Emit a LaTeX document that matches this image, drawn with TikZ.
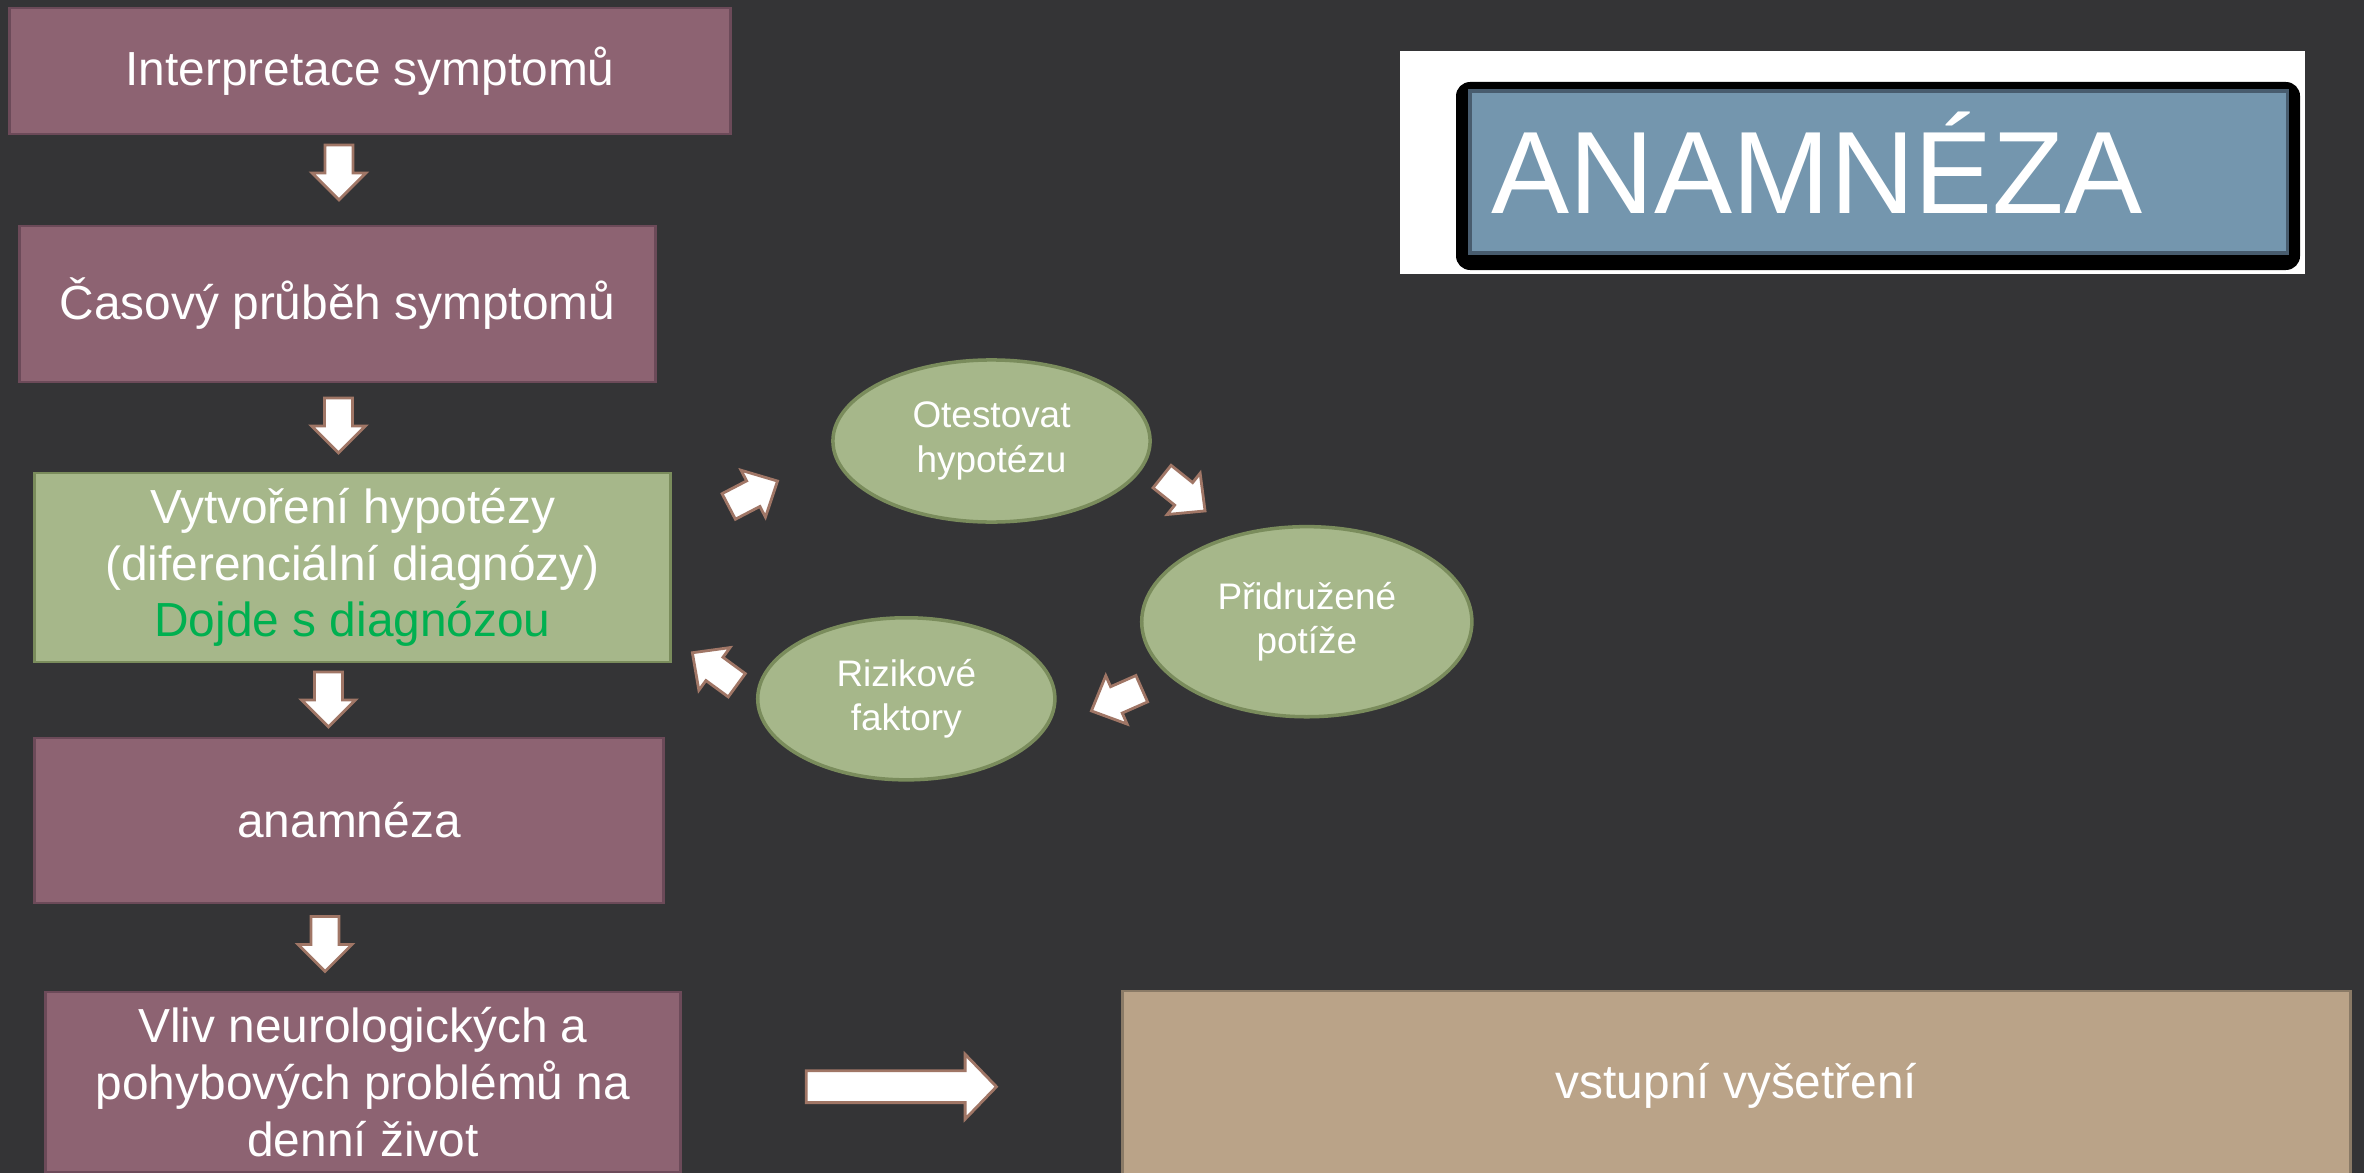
\documentclass[tikz,border=0pt]{standalone}
\usepackage{fontspec}
\setmainfont{Liberation Sans}
\usetikzlibrary{shapes}

\definecolor{slate}{RGB}{52,52,54}
\definecolor{mauve}{RGB}{141,99,114}
\definecolor{mauveline}{RGB}{108,74,89}
\definecolor{sage}{RGB}{166,183,138}
\definecolor{sageline}{RGB}{122,140,92}
\definecolor{sand}{RGB}{186,163,136}
\definecolor{sandline}{RGB}{138,122,102}
\definecolor{steel}{RGB}{116,150,174}
\definecolor{steelline}{RGB}{72,92,110}
\definecolor{arrowline}{RGB}{160,118,102}
\definecolor{okgreen}{RGB}{0,176,80}

\tikzset{
  stepbox/.style={rectangle, draw=mauveline, line width=0.8pt, fill=mauve, text=white,
    inner sep=0pt, align=center, font=\fontsize{13.6}{16.1}\selectfont},
  idea/.style={ellipse, draw=sageline, line width=1pt, fill=sage, text=white,
    inner sep=0pt, align=center, font=\fontsize{10.5}{12.6}\selectfont},
  blockarrow/.style={single arrow, draw=arrowline, fill=white, line width=0.8pt,
    inner xsep=0pt, inner ysep=0.125cm,
    single arrow tip angle=90, single arrow head extend=0.13cm,
    minimum height=0.55cm},
}

\begin{document}
\begin{tikzpicture}[x=0.01cm, y=-0.01cm]
\useasboundingbox (0,0) rectangle (2364,1173);
\clip (0,0) rectangle (2364,1173);
\fill[slate] (0,0) rectangle (2364,1173);

% left column
\node[stepbox, minimum width=7.2cm, minimum height=1.26cm] (interp) at (370,71) {Interpretace symptomů};
\node[stepbox, minimum width=6.35cm, minimum height=1.56cm] (prubeh) at (337.5,304) {Časový průběh symptomů};
\node[stepbox, fill=sage, draw=sageline, minimum width=6.35cm, minimum height=1.89cm] (hypo) at (352.5,567.5)
  {Vytvoření hypotézy\\(diferenciální diagnózy)\\\textcolor{okgreen}{Dojde s diagnózou}};
\node[stepbox, minimum width=6.28cm, minimum height=1.65cm] (anam) at (349,820.5) {anamnéza};
\node[stepbox, minimum width=6.34cm, minimum height=1.80cm] (vliv) at (363,1082)
  {Vliv neurologických a\\pohybových problémů na\\denní život};
\node[stepbox, fill=sand, draw=sandline, minimum width=12.27cm, minimum height=1.9cm] (vstup) at (1736.5,1086) {vstupní vyšetření};

% down arrows
\node[blockarrow, rotate=-90] (a1) at (339,165.5) {};
\node[blockarrow, rotate=-90] (a2) at (338.5,418.5) {};
\node[blockarrow, rotate=-90] (a3) at (328.5,692.5) {};
\node[blockarrow, rotate=-90] (a4) at (325,937) {};
\node[blockarrow, minimum height=1.9cm, inner ysep=0.145cm, single arrow head extend=0.165cm,
  single arrow tip angle=92] (a5) at (893.7,1086.7) {};

% hypothesis cycle
\node[idea, minimum width=3.17cm, minimum height=1.62cm] (test) at (991.5,441) {Otestovat\\hypotézu};
\node[idea, minimum width=3.30cm, minimum height=1.90cm] (potize) at (1306.8,621.7) {Přidružené\\potíže};
\node[idea, minimum width=2.97cm, minimum height=1.62cm] (riziko) at (906.3,698.8) {Rizikové\\faktory};

\begin{scope}[every node/.style={blockarrow, inner ysep=0.13cm, single arrow head extend=0.12cm, single arrow tip angle=88}]
  \node[rotate=27.5] (c1) at (746.5,497.2) {};
  \node[rotate=-38.6] (c2) at (1177.7,489.1) {};
  \node[rotate=203.8] (c3) at (1123.4,696.8) {};
  \node[rotate=143.8] (c4) at (720.6,673.4) {};
\end{scope}

% title
\fill[white] (1400,51) rectangle (2305,274);
\fill[black, rounded corners=4pt] (1456,82) rectangle (2300,270);
\node[rectangle, draw=steelline, line width=1pt, fill=steel, minimum width=8.17cm, minimum height=1.62cm] (titlebox) at (1878.5,172) {};
\node[anchor=base west, inner sep=0pt, text=white, font=\fontsize{33.3}{40}\selectfont] (title) at (1491,214) {ANAMNÉZA};

\end{tikzpicture}
\end{document}
